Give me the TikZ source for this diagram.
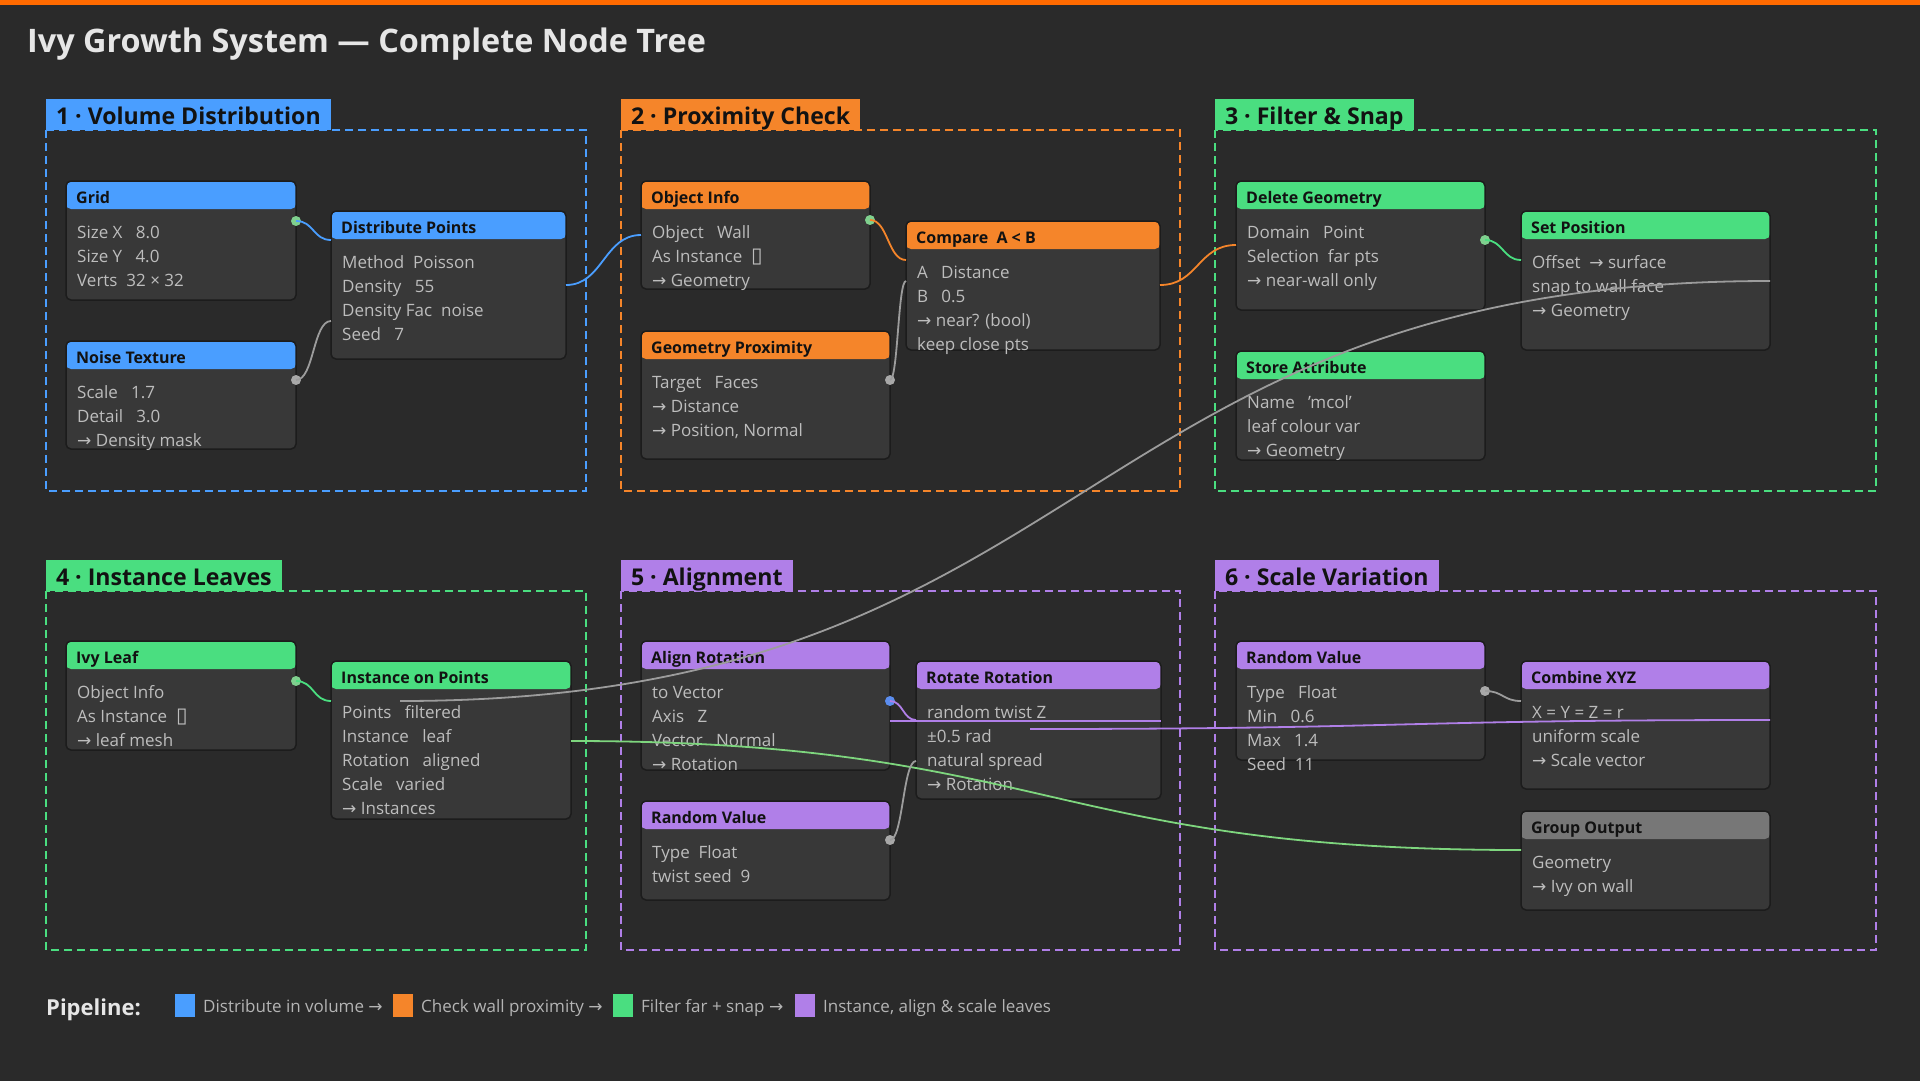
\documentclass[tikz,border=0pt]{standalone}
\usepackage{fontspec}
\setmainfont{Open Sans}
\newfontfamily\symfnt{DejaVu Sans}
\newcommand\arr{{\symfnt\char"2192}}
\newcommand\tofu{{\symfnt\fontsize{21}{21}\selectfont\char"25AF}}
\definecolor{bg}{HTML}{2A2A2A}
\definecolor{topbar}{HTML}{FF6A00}
\definecolor{cblue}{HTML}{4A9EFF}
\definecolor{corange}{HTML}{F5852A}
\definecolor{cgreen}{HTML}{4ADE80}
\definecolor{cpurple}{HTML}{B07FE8}
\definecolor{cgrayh}{HTML}{777777}
\definecolor{nbody}{HTML}{383838}
\definecolor{nborder}{HTML}{1C1C1C}
\definecolor{btext}{HTML}{BDBDBD}
\definecolor{htext}{HTML}{121212}
\definecolor{titlec}{HTML}{E6E6E6}
\definecolor{ltext}{HTML}{B4B4B4}
\definecolor{lgray}{HTML}{9C9C9C}
\definecolor{sgreen}{HTML}{7FD08E}
\definecolor{sgray}{HTML}{A8A8A8}
\definecolor{sblue}{HTML}{5B8DEF}
\definecolor{lgreen}{HTML}{7ED67E}
\tikzset{
 nodebox/.style={rectangle, anchor=north west, inner sep=0pt, outer sep=0pt, fill=nbody, draw=nborder, line width=1.5pt, rounded corners=5pt},
 hdr/.style={path picture={\fill[#1] (path picture bounding box.north west) rectangle ([yshift=-28pt]path picture bounding box.north east);}},
 ntitle/.style={anchor=base west, inner sep=0pt, text=htext, font=\bfseries\fontsize{16}{19}\selectfont},
 nline/.style={anchor=base west, inner sep=0pt, text=btext, font=\fontsize{17}{20}\selectfont},
 grpbox/.style={draw=#1, dash pattern=on 8pt off 5pt, line width=1.5pt},
 grptab/.style={fill=#1, anchor=south west, inner xsep=10pt, inner ysep=0pt, outer sep=0pt, minimum height=31pt, text height=21pt, text depth=1pt, text=htext, font=\bfseries\fontsize{23.1}{26}\selectfont},
 link/.style={draw=#1, line width=1.8pt},
 legsq/.style={anchor=north west, inner sep=0pt, outer sep=0pt, minimum width=20pt, minimum height=23pt, fill=#1},
 legtx/.style={anchor=base west, inner sep=0pt, text=ltext, font=\fontsize{17}{20}\selectfont},
}
% name, x, y, w, h, colour, title, lines
\newcommand\gnode[8]{%
 \node[nodebox, minimum width=#4pt, minimum height=#5pt, hdr=#6] (#1) at (#2,#3) {};
 \node[ntitle] (#1-t) at ([xshift=10pt,yshift=-22pt]#1.north west) {#7};
 \foreach \t [count=\i from 0] in {#8} {\node[nline] (#1-l\i) at ([xshift=11pt,yshift={-(57+24*\i)*1pt}]#1.north west) {\t};}
}
% name, x1, y1, x2, y2, colour, label
\newcommand\grp[7]{%
 \draw[grpbox=#6] (#2,#3) rectangle (#4,#5);
 \node[grptab=#6] (#1) at (#2,#3) {#7};
}
\begin{document}
\begin{tikzpicture}[x=1pt,y=-1pt]
\useasboundingbox (0,0) rectangle (1920,1080);
\fill[bg] (-10,-10) rectangle (1930,1090);
\fill[topbar] (-10,-10) rectangle (1930,5);
\node[anchor=base west, inner sep=0pt, text=titlec, font=\bfseries\fontsize{32.4}{36}\selectfont] (title) at (27,52) {Ivy Growth System — Complete Node Tree};

% groups
\grp{g1}{46}{130}{586}{491}{cblue}{1 · Volume Distribution}
\grp{g2}{621}{130}{1180}{491}{corange}{2 · Proximity Check}
\grp{g3}{1215}{130}{1876}{491}{cgreen}{3 · Filter \& Snap}
\grp{g4}{46}{591}{586}{950}{cgreen}{4 · Instance Leaves}
\grp{g5}{621}{591}{1180}{950}{cpurple}{5 · Alignment}
\grp{g6}{1215}{591}{1876}{950}{cpurple}{6 · Scale Variation}

% nodes
\gnode{grid}{66}{181}{230}{119}{cblue}{Grid}{{Size X~~~8.0},{Size Y~~~4.0},{Verts~~32 × 32}}
\gnode{dist}{331}{211}{235}{148}{cblue}{Distribute Points}{{Method~~Poisson},{Density~~~55},{Density Fac~~noise},{Seed~~~7}}
\gnode{noise}{66}{341}{230}{108}{cblue}{Noise Texture}{{Scale~~~1.7},{Detail~~~3.0},{\arr{} Density mask}}
\gnode{obj}{641}{181}{229}{108}{corange}{Object Info}{{Object~~~Wall},{As Instance~~\tofu},{\arr{} Geometry}}
\gnode{cmp}{906}{221}{254}{129}{corange}{Compare~~A < B}{{A~~~Distance},{B~~~0.5},{\arr{} near? (bool)},{keep close pts}}
\gnode{geo}{641}{331}{249}{128}{corange}{Geometry Proximity}{{Target~~~Faces},{\arr{} Distance},{\arr{} Position, Normal}}
\gnode{del}{1236}{181}{249}{129}{cgreen}{Delete Geometry}{{Domain~~~Point},{Selection~~far pts},{\arr{} near-wall only}}
\gnode{setp}{1521}{211}{249}{139}{cgreen}{Set Position}{{Offset~~\arr{} surface},{snap to wall face},{\arr{} Geometry}}
\gnode{store}{1236}{351}{249}{109}{cgreen}{Store Attribute}{{Name~~~'mcol'},{leaf colour var},{\arr{} Geometry}}
\gnode{ivy}{66}{641}{230}{109}{cgreen}{Ivy Leaf}{{Object Info},{As Instance~~\tofu},{\arr{} leaf mesh}}
\gnode{inst}{331}{661}{240}{158}{cgreen}{Instance on Points}{{Points~~~filtered},{Instance~~~leaf},{Rotation~~~aligned},{Scale~~~varied},{\arr{} Instances}}
\gnode{align}{641}{641}{249}{129}{cpurple}{Align Rotation}{{to Vector},{Axis~~~Z},{Vector~~~Normal},{\arr{} Rotation}}
\gnode{rot}{916}{661}{245}{138}{cpurple}{Rotate Rotation}{{random twist Z},{±0.5 rad},{natural spread},{\arr{} Rotation}}
\gnode{rvt}{641}{801}{249}{99}{cpurple}{Random Value}{{Type~~Float},{twist seed~~9}}
\gnode{rvs}{1236}{641}{249}{119}{cpurple}{Random Value}{{Type~~~Float},{Min~~~0.6},{Max~~~1.4},{Seed~~11}}
\gnode{comb}{1521}{661}{249}{128}{cpurple}{Combine XYZ}{{X = Y = Z = r},{uniform scale},{\arr{} Scale vector}}
\gnode{gout}{1521}{811}{249}{99}{cgrayh}{Group Output}{{Geometry},{\arr{} Ivy on wall}}

% sockets
\coordinate (grid-o) at ([yshift=-40pt]grid.north east);
\coordinate (noise-o) at ([yshift=-39pt]noise.north east);
\coordinate (obj-o) at ([yshift=-39pt]obj.north east);
\coordinate (geo-o) at ([yshift=-49pt]geo.north east);
\coordinate (del-o) at ([yshift=-59pt]del.north east);
\coordinate (ivy-o) at ([yshift=-40pt]ivy.north east);
\coordinate (align-o) at ([yshift=-60pt]align.north east);
\coordinate (rvt-o) at ([yshift=-39pt]rvt.north east);
\coordinate (rvs-o) at ([yshift=-50pt]rvs.north east);
\fill[sgreen] (grid-o) circle (5pt);
\fill[sgray] (noise-o) circle (5pt);
\fill[sgreen] (obj-o) circle (5pt);
\fill[sgray] (geo-o) circle (5pt);
\fill[sgreen] (del-o) circle (5pt);
\fill[sgreen] (ivy-o) circle (5pt);
\fill[sblue] (align-o) circle (5pt);
\fill[sgray] (rvt-o) circle (5pt);
\fill[sgray] (rvs-o) circle (5pt);

% links
\draw[link=cblue] (grid-o) .. controls +(18,0) and +(-18,0) .. ([yshift=-29pt]dist.north west);
\draw[link=lgray] (noise-o) .. controls +(18,0) and +(-18,0) .. ([yshift=-110pt]dist.north west);
\draw[link=cblue] ([yshift=-74pt]dist.north east) .. controls +(37,0) and +(-37,0) .. ([yshift=-54pt]obj.north west);
\draw[link=corange] (obj-o) .. controls +(18,0) and +(-18,0) .. ([yshift=-39pt]cmp.north west);
\draw[link=lgray] (geo-o) .. controls +(8,0) and +(-8,0) .. ([yshift=-60pt]cmp.north west);
\draw[link=corange] ([yshift=-64pt]cmp.north east) .. controls +(38,0) and +(-38,0) .. ([yshift=-64pt]del.north west);
\draw[link=cgreen] (del-o) .. controls +(18,0) and +(-18,0) .. ([yshift=-49pt]setp.north west);
\draw[link=lgray] ([yshift=-70pt]setp.north east) .. controls +(-700,0) and +(700,0) .. ([xshift=69pt,yshift=-40pt]inst.north west);
\draw[link=cgreen] (ivy-o) .. controls +(18,0) and +(-18,0) .. ([yshift=-40pt]inst.north west);
\draw[link=lgreen] ([yshift=-80pt]inst.north east) .. controls +(475,0) and +(-475,0) .. ([yshift=-39pt]gout.north west);
\draw[link=cpurple] (align-o) .. controls +(13,0) and +(-13,0) .. ([yshift=-59pt]rot.north west);
\draw[link=cpurple] ([yshift=-60pt]rot.north east) -- ([yshift=-80pt]align.north east);
\draw[link=lgray] (rvt-o) .. controls +(13,0) and +(-13,0) .. ([yshift=-100pt]rot.north west);
\draw[link=cpurple] ([yshift=-59pt]comb.north east) .. controls +(-370,0) and +(370,0) .. ([xshift=114pt,yshift=-68pt]rot.north west);
\draw[link=lgray] (rvs-o) .. controls +(18,0) and +(-18,0) .. ([yshift=-40pt]comb.north west);

% legend
\node[anchor=base west, inner sep=0pt, text=titlec, font=\bfseries\fontsize{22}{26}\selectfont] (pipe) at (46,1015) {Pipeline:};
\node[legsq=cblue] (sq1) at (175,994) {};
\node[legtx] (lt1) at (203,1012) {Distribute in volume \arr};
\node[legsq=corange] (sq2) at (393,994) {};
\node[legtx] (lt2) at (421,1012) {Check wall proximity \arr};
\node[legsq=cgreen] (sq3) at (613,994) {};
\node[legtx] (lt3) at (641,1012) {Filter far + snap \arr};
\node[legsq=cpurple] (sq4) at (795,994) {};
\node[legtx] (lt4) at (823,1012) {Instance, align \& scale leaves};
\end{tikzpicture}
\end{document}
